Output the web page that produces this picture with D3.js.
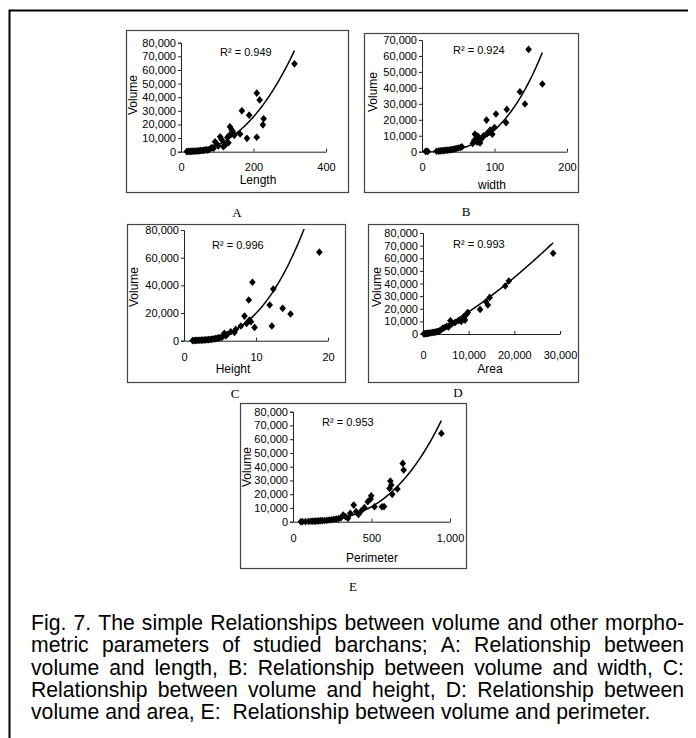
<!DOCTYPE html>
<html><head><meta charset="utf-8">
<script src="https://cdn.jsdelivr.net/npm/d3@7"></script>
<style>
body{margin:0;background:#fff}
text{font-family:"Liberation Sans",Arial,sans-serif;fill:#000}
</style>
</head><body>
<svg id="c" width="696" height="738"></svg>
<script>
// ---------- DATA ----------
const volumeTicks80 = [0,10000,20000,30000,40000,50000,60000,70000,80000];
const volumeTicks70 = [0,10000,20000,30000,40000,50000,60000,70000];
const volumeTicksC  = [0,20000,40000,60000,80000];

// A: Length vs Volume
const lengthA = [16,20,24,27,30,33,36,40,44,47,50,54,58,62,66,70,74,78,82,86,90,94,100,103,108,112,117,120,124,128,131,134,135,140,143,147,163,168,182,188,209,209,217,226,228,313];
const volumeA = [100,200,150,300,250,400,350,500,450,700,600,800,900,1000,1200,1500,1100,1800,2400,3000,2600,7300,5500,4200,11000,9000,3700,5000,5600,10500,6600,12200,18300,16000,14700,12000,13000,30000,9800,26800,43000,10600,38000,19700,24200,64500];
const ticksA = [0,200,400];
const trendA = [0.0903, 2.37];   // power trendline  V = a * x^b
const r2A = "R\u00B2 = 0.949";

// B: width vs Volume
const widthB = [5,7,8,20,23,25,27,29,31,33,35,37,39,41,43,45,47,50,53,55,70,72,73,75,76,77,79,80,82,85,89,90,92,94,97,100,102,116,117,135,142,147,166];
const volumeB = [200,300,150,300,400,500,600,700,800,900,1000,1100,1200,1400,1500,1700,1900,2300,2600,3000,5200,7000,11000,8400,6000,9800,7300,5500,8000,10000,19800,11500,12000,13600,11000,15200,23600,18200,26500,37600,29900,64100,42400];
const ticksB = [0,100,200];
const trendB = [0.0136, 3.0];
const r2B = "R\u00B2 = 0.924";

// C: Height vs Volume
const heightC = [1.2,1.4,1.6,1.8,2.0,2.2,2.4,2.6,2.8,3.0,3.2,3.4,3.6,3.8,4.0,4.2,4.4,4.6,4.8,5.0,5.3,5.6,5.8,6.0,6.5,7.0,7.2,7.9,8.4,8.7,9.0,9.1,9.3,9.5,9.8,11.9,12.2,12.4,13.7,14.8,18.8];
const volumeC = [100,150,200,250,300,300,400,450,500,600,700,800,900,1000,1200,1300,1500,1700,2000,2200,2600,5300,3500,4500,6500,6000,8200,10600,17800,12500,29400,14900,13700,42200,9600,25800,10600,37300,23400,19300,64000];
const ticksC = [0,10,20];
const trendC = [35.2, 2.75];
const r2C = "R\u00B2 = 0.996";

// D: Area vs Volume
const areaD = [200,400,600,800,1000,1200,1500,1800,2100,2400,2700,3000,3300,3600,4000,4300,4700,5200,5600,6000,6300,7000,7800,8400,8800,9000,9200,9500,9800,12500,13800,14200,14600,18000,18800,28500];
const volumeD = [100,200,300,400,500,600,800,1000,1200,1300,1500,1800,2000,2300,3500,4500,5000,6000,5500,10500,8000,9000,10500,10000,12000,14000,11000,15500,17000,19500,25500,23000,29000,38000,42000,64000];
const ticksD = [0,10000,20000,30000];
const trendD = [0.07, 1.35];
const r2D = "R\u00B2 = 0.993";

// E: Perimeter vs Volume
const perimeterE = [50,60,80,100,115,125,135,145,155,165,175,185,200,215,230,245,260,275,290,305,320,335,350,365,387,402,417,434,455,476,494,498,519,566,580,615,620,626,632,665,699,705,945];
const volumeE = [0,100,100,200,300,300,400,400,500,600,700,800,900,1000,1200,1400,1800,1900,2200,2900,4800,3600,2500,6100,12100,7300,5300,7800,10200,14500,16500,18900,10900,10900,11000,24200,29600,26700,19900,23800,42400,37600,64200];
const ticksE = [0,500,1000];
const trendE = [8.72e-5, 3.0];
const r2E = "R\u00B2 = 0.953";

const captionLines = [
  "Fig. 7. The simple Relationships between volume and other morpho-",
  "metric parameters of studied barchans; A: Relationship between",
  "volume and length, B: Relationship between volume and width, C:",
  "Relationship between volume and height, D: Relationship between",
  "volume and area, E:  Relationship between volume and perimeter."
];

// ---------- DRAWING ----------
const svg = d3.select('#c');

svg.append('path').attr('d','M9.5,738 V10.5 H688')
  .attr('fill','none').attr('stroke','#000').attr('stroke-width',2);

const diamond = {draw(ctx,size){const r=Math.sqrt(size)/2;
  ctx.moveTo(0,-r*1.15); ctx.lineTo(r,0); ctx.lineTo(0,r*1.15); ctx.lineTo(-r,0); ctx.closePath();}};

let clipId = 0;
function panel(p){
  const g = svg.append('g');
  g.append('rect').attr('x',p.box[0]+.5).attr('y',p.box[1]+.5)
    .attr('width',p.box[2]-p.box[0]).attr('height',p.box[3]-p.box[1])
    .attr('fill','none').attr('stroke','#444').attr('stroke-width',1.2);

  const x = d3.scaleLinear().domain([p.xTicks[0], p.xTicks[p.xTicks.length-1]]).range(p.xRange);
  const y = d3.scaleLinear().domain([0, p.yTicks[p.yTicks.length-1]]).range(p.yRange);

  const ya = g.append('g').attr('transform',`translate(${p.xRange[0]},0)`)
    .call(d3.axisLeft(y).tickValues(p.yTicks).tickSize(3).tickPadding(2).tickFormat(d3.format(',')));
  ya.selectAll('text').attr('font-size',11).attr('font-family','Liberation Sans, Arial');
  ya.selectAll('path,line').attr('stroke','#222');

  const xa = g.append('g').attr('transform',`translate(0,${p.yRange[0]})`)
    .call(d3.axisBottom(x).tickValues(p.xTicks).tickSizeInner(-3).tickSizeOuter(0).tickFormat(d3.format(',')));
  xa.selectAll('text').attr('font-size',11).attr('font-family','Liberation Sans, Arial')
    .attr('dy',null).attr('y', p.xTickBase - p.yRange[0]);
  xa.selectAll('path,line').attr('stroke','#222');

  // trendline
  const id = 'clip' + (clipId++);
  g.append('clipPath').attr('id',id).append('rect')
    .attr('x',p.xRange[0]).attr('y',p.yRange[1]-1)
    .attr('width',p.xRange[1]-p.xRange[0]).attr('height',p.yRange[0]-p.yRange[1]+1);
  const xmin = d3.min(p.xs), xmax = d3.max(p.xs);
  const xsT = d3.range(0,101).map(i => xmin + (xmax-xmin)*i/100);
  g.append('path').attr('clip-path',`url(#${id})`)
    .datum(xsT)
    .attr('d', d3.line().x(d=>x(d)).y(d=>y(p.trend[0]*Math.pow(d,p.trend[1]))))
    .attr('fill','none').attr('stroke','#000').attr('stroke-width',1.5);

  // markers
  const sym = d3.symbol().type(diamond).size(44);
  g.selectAll('path.pt').data(p.xs.map((v,i)=>[v,p.ys[i]])).enter().append('path')
    .attr('class','pt').attr('d',sym)
    .attr('transform',d=>`translate(${x(d[0])},${y(d[1])})`).attr('fill','#000');

  g.append('text').attr('x',p.xTitle[0]).attr('y',p.xTitle[1]).attr('text-anchor','middle')
    .attr('font-size',12).text(p.xName);
  g.append('text').attr('transform',`translate(${p.yTitle[0]},${p.yTitle[1]}) rotate(-90)`)
    .attr('text-anchor','middle').attr('dy','0.35em').attr('font-size',12).text('Volume');
  g.append('text').attr('x',p.r2pos[0]).attr('y',p.r2pos[1]).attr('font-size',11).text(p.r2);
  g.append('text').attr('x',p.label[0]).attr('y',p.label[1]).attr('text-anchor','middle')
    .attr('font-size',13).style('font-family','"Liberation Serif","Times New Roman",serif').text(p.name);
}

panel({name:'A', xName:'Length', xs:lengthA, ys:volumeA, xTicks:ticksA, yTicks:volumeTicks80, trend:trendA, r2:r2A,
  box:[126,30,348,192], xRange:[181,326], yRange:[151.7,42.7], xTickBase:171, xTitle:[258,184], yTitle:[133,95], r2pos:[220,56], label:[237,217]});
panel({name:'B', xName:'width', xs:widthB, ys:volumeB, xTicks:ticksB, yTicks:volumeTicks70, trend:trendB, r2:r2B,
  box:[364,33,578,192], xRange:[422,567], yRange:[151.7,40], xTickBase:171, xTitle:[492,189], yTitle:[373,92], r2pos:[453,54], label:[466,216]});
panel({name:'C', xName:'Height', xs:heightC, ys:volumeC, xTicks:ticksC, yTicks:volumeTicksC, trend:trendC, r2:r2C,
  box:[127,224,345,382], xRange:[184,328], yRange:[340.7,230], xTickBase:361, xTitle:[233,373], yTitle:[134,287], r2pos:[212,249], label:[235,398]});
panel({name:'D', xName:'Area', xs:areaD, ys:volumeD, xTicks:ticksD, yTicks:volumeTicks80, trend:trendD, r2:r2D,
  box:[368,224,578,382], xRange:[423,560], yRange:[334,233], xTickBase:359, xTitle:[490,373], yTitle:[377,287], r2pos:[453,248], label:[458,397]});
panel({name:'E', xName:'Perimeter', xs:perimeterE, ys:volumeE, xTicks:ticksE, yTicks:volumeTicks80, trend:trendE, r2:r2E,
  box:[240,403,466,568], xRange:[293,450], yRange:[521.7,411.7], xTickBase:542, xTitle:[372,562], yTitle:[247,467], r2pos:[322,426], label:[353,591]});

// caption (justified)
const fs = 21.2, cx0 = 31, cx1 = 684, base0 = 630, lh = 22.3;
captionLines.forEach((line,li) => {
  const yb = base0 + li*lh;
  const t = svg.append('text').attr('y',yb).attr('font-size',fs).style('white-space','pre');
  if (li === captionLines.length-1) { t.attr('x',cx0).text(line); return; }
  const words = line.split(' ');
  const spans = words.map(w => t.append('tspan').text(w));
  const widths = spans.map(s => s.node().getComputedTextLength());
  const gap = (cx1 - cx0 - d3.sum(widths)) / (words.length-1);
  let cx = cx0;
  spans.forEach((s,i) => { s.attr('x',cx); cx += widths[i] + gap; });
});
</script>
</body></html>
